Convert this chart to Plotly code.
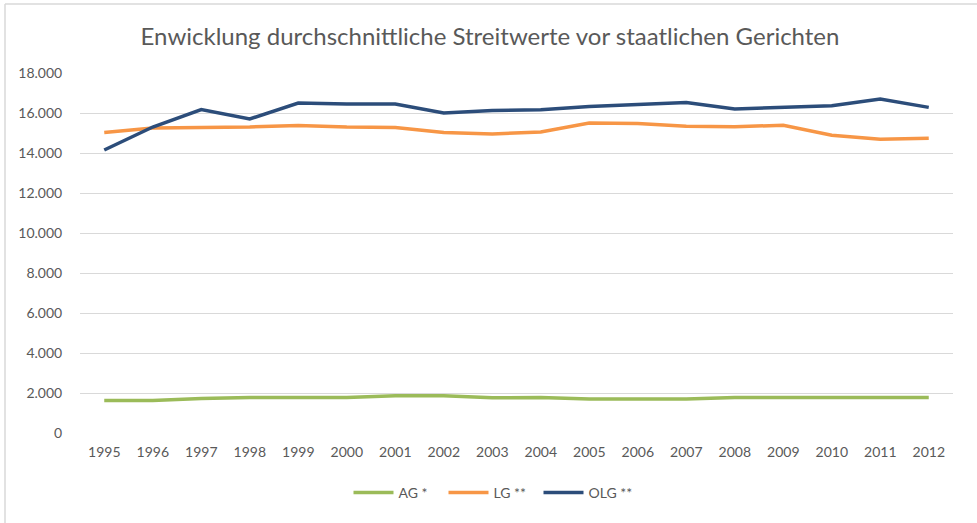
import plotly.graph_objects as go

years = [str(y) for y in range(1995, 2013)]
ag = [1630, 1630, 1730, 1780, 1780, 1780, 1860, 1860, 1760, 1780, 1700, 1700, 1700, 1780, 1780, 1780, 1780, 1780]
lg = [15030, 15250, 15280, 15300, 15380, 15300, 15280, 15030, 14950, 15050, 15500, 15480, 15340, 15310, 15390, 14890, 14690, 14740]
olg = [14150, 15300, 16170, 15700, 16500, 16450, 16450, 16000, 16120, 16160, 16320, 16400, 16520, 16200, 16300, 16360, 16700, 16280]
series_names = ["AG *", "LG **", "OLG **"]
colors = ["#9bbb59", "#f79646", "#2c4d7a"]
y_ticks = [0, 2000, 4000, 6000, 8000, 10000, 12000, 14000, 16000, 18000]
y_labels = ["0", "2.000", "4.000", "6.000", "8.000", "10.000", "12.000", "14.000", "16.000", "18.000"]
title = "Enwicklung durchschnittliche Streitwerte vor staatlichen Gerichten"

fig = go.Figure()
for name, vals, c in zip(series_names, [ag, lg, olg], colors):
    fig.add_trace(go.Scatter(x=years, y=vals, name=name, mode="lines",
                             line=dict(color=c, width=3.5)))

font = "Lato, 'Open Sans', sans-serif"
fig.update_layout(
    width=977, height=523,
    margin=dict(l=80, r=24, t=73, b=90),
    paper_bgcolor="white", plot_bgcolor="white",
    font=dict(family=font, size=14, color="#595959"),
    title=dict(text=title, x=490 / 977, xref="container", xanchor="center",
               y=1 - 37 / 523, yref="container", yanchor="middle",
               font=dict(family=font, size=24, color="#595959")),
    showlegend=True,
    legend=dict(orientation="h", xref="container", x=491 / 977, xanchor="center",
                yref="container", y=1 - 493 / 523, yanchor="middle",
                font=dict(size=14, color="#595959"), itemwidth=40,
                entrywidth=40, traceorder="normal"),
    xaxis=dict(type="category", range=[-0.5, 17.5], showgrid=False, showline=False,
               zeroline=False, ticks="outside", ticklen=6, tickcolor="rgba(0,0,0,0)",
               tickfont=dict(size=14, color="#595959")),
    yaxis=dict(range=[0, 18000], tickvals=y_ticks, ticktext=y_labels,
               showgrid=True, gridcolor="#d9d9d9", gridwidth=1,
               zeroline=False, showline=False,
               ticks="outside", ticklen=14, tickcolor="rgba(0,0,0,0)",
               tickfont=dict(size=14, color="#595959")),
    shapes=[
        dict(type="line", xref="paper", yref="paper",
             x0=-(80 - 5) / 873, x1=(977 - 80) / 873,
             y0=(433 - 4) / 360, y1=(433 - 4) / 360,
             line=dict(color="#d9d9d9", width=1.5)),
        dict(type="line", xref="paper", yref="paper",
             x0=-(80 - 5) / 873, x1=-(80 - 5) / 873,
             y0=(433 - 4) / 360, y1=(433 - 523) / 360,
             line=dict(color="#d9d9d9", width=1.5)),
    ],
)
fig.write_html("out.html", config={"displayModeBar": False},
               post_script="document.body.style.margin='0';")
